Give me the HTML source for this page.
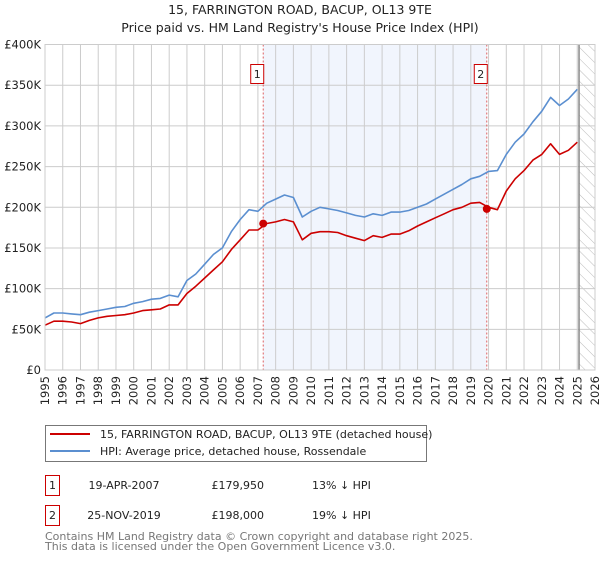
<!DOCTYPE html>
<html><head><meta charset="utf-8"><style>
body{margin:0;background:#fff;width:600px;height:560px;overflow:hidden;font-family:"DejaVu Sans","Liberation Sans",sans-serif;}
svg text{font-family:"DejaVu Sans","Liberation Sans",sans-serif;}
</style></head><body>
<svg id="chart" width="600" height="560" viewBox="0 0 600 560" xmlns="http://www.w3.org/2000/svg">
<text x="300" y="14" text-anchor="middle" font-size="12.5" fill="#222">15, FARRINGTON ROAD, BACUP, OL13 9TE</text>
<text x="300" y="32" text-anchor="middle" font-size="12.5" fill="#222">Price paid vs. HM Land Registry's House Price Index (HPI)</text>
<g id="plot"></g>
<g>
<rect x="45.5" y="425.5" width="381" height="36" fill="#fff" stroke="#777"/>
<line x1="50" y1="434" x2="90" y2="434" stroke="#cc0000" stroke-width="2"/>
<text x="100" y="438" font-size="11" fill="#222">15, FARRINGTON ROAD, BACUP, OL13 9TE (detached house)</text>
<line x1="50" y1="451" x2="90" y2="451" stroke="#5b8fd0" stroke-width="2"/>
<text x="100" y="455" font-size="11" fill="#222">HPI: Average price, detached house, Rossendale</text>
</g>
<g font-size="11" fill="#222">
<rect x="45.5" y="475.5" width="14" height="20" fill="#fff" stroke="#cc0000"/>
<text x="52.5" y="489" text-anchor="middle">1</text>
<text x="124" y="489" text-anchor="middle">19-APR-2007</text>
<text x="264" y="489" text-anchor="end">£179,950</text>
<text x="312" y="489">13% ↓ HPI</text>
<rect x="45.5" y="505.5" width="14" height="20" fill="#fff" stroke="#cc0000"/>
<text x="52.5" y="519" text-anchor="middle">2</text>
<text x="124" y="519" text-anchor="middle">25-NOV-2019</text>
<text x="264" y="519" text-anchor="end">£198,000</text>
<text x="312" y="519">19% ↓ HPI</text>
</g>
<text x="45" y="540" font-size="11" fill="#777">Contains HM Land Registry data © Crown copyright and database right 2025.</text>
<text x="45" y="550" font-size="11" fill="#777">This data is licensed under the Open Government Licence v3.0.</text>
</svg>
<script>
const years=[1995,1995.5,1996,1996.5,1997,1997.5,1998,1998.5,1999,1999.5,2000,2000.5,2001,2001.5,2002,2002.5,2003,2003.5,2004,2004.5,2005,2005.5,2006,2006.5,2007,2007.5,2008,2008.5,2009,2009.5,2010,2010.5,2011,2011.5,2012,2012.5,2013,2013.5,2014,2014.5,2015,2015.5,2016,2016.5,2017,2017.5,2018,2018.5,2019,2019.5,2020,2020.5,2021,2021.5,2022,2022.5,2023,2023.5,2024,2024.5,2025];
const hpi=[64,70,70,69,68,71,73,75,77,78,82,84,87,88,92,90,110,118,130,142,150,170,185,197,195,205,210,215,212,188,195,200,198,196,193,190,188,192,190,194,194,196,200,204,210,216,222,228,235,238,244,245,265,280,290,305,318,335,325,333,345];
const price=[55,60,60,59,57,61,64,66,67,68,70,73,74,75,80,80,94,103,113,123,133,148,160,172,172,180,182,185,182,160,168,170,170,169,165,162,159,165,163,167,167,171,177,182,187,192,197,200,205,206,200,197,220,235,245,258,265,278,265,270,280];
const yTicks=[0,50,100,150,200,250,300,350,400];
const yLabels=["£0","£50K","£100K","£150K","£200K","£250K","£300K","£350K","£400K"];
const xTicks=[1995,1996,1997,1998,1999,2000,2001,2002,2003,2004,2005,2006,2007,2008,2009,2010,2011,2012,2013,2014,2015,2016,2017,2018,2019,2020,2021,2022,2023,2024,2025,2026];
const saleYears=[2007.3,2019.9];
const saleValues=[179.95,198];
const saleLabels=["1","2"];
const dataEnd=2025.1;

const L=45,R=595,T=44.5,B=370;
const xs=v=>L+(v-1995)/(2026-1995)*(R-L);
const ys=v=>B-v/400*(B-T);
const NS="http://www.w3.org/2000/svg";
const plot=document.getElementById('plot');
function mk(tag,attrs,parent){const e=document.createElementNS(NS,tag);for(const k in attrs)e.setAttribute(k,attrs[k]);(parent||plot).appendChild(e);return e;}

let e=mk('rect',{x:xs(saleYears[0]),y:T,width:xs(saleYears[1])-xs(saleYears[0]),height:B-T,fill:'#eef2fc',opacity:0.8});


const defs=mk('defs',{});
const pat=mk('pattern',{id:'hatch',width:8,height:8,patternUnits:'userSpaceOnUse',patternTransform:'rotate(-45)'},defs);
mk('line',{x1:0,y1:0,x2:0,y2:8,stroke:'#bbb','stroke-width':1},pat);
e=mk('rect',{x:xs(dataEnd),y:T,width:R-xs(dataEnd),height:B-T,fill:'url(#hatch)'});



xTicks.forEach(t=>{
 let g=mk('line',{x1:xs(t),x2:xs(t),y1:T,y2:B,stroke:'#ccc','stroke-width':1});
 
 
 let tx=mk('text',{x:0,y:0,'font-size':11.5,fill:'#222','text-anchor':'end',transform:`translate(${xs(t)+4},${B+6}) rotate(-90)`});
 tx.textContent=t;
 
 
});
yTicks.forEach((t,i)=>{
 let g=mk('line',{x1:L,x2:R,y1:ys(t),y2:ys(t),stroke:'#ccc','stroke-width':1});
 
 
 let tx=mk('text',{x:L-4,y:ys(t)+4,'font-size':11.5,fill:'#222','text-anchor':'end'});
 tx.textContent=yLabels[i];
 
 
});
e=mk('line',{x1:xs(dataEnd),x2:xs(dataEnd),y1:T,y2:B,stroke:'#888','stroke-width':1.5});



saleYears.forEach((s,i)=>{
 let l=mk('line',{x1:xs(s),x2:xs(s),y1:T,y2:B,stroke:'#e06060','stroke-width':1,'stroke-dasharray':'2,2'});
 
 
 let r=mk('rect',{x:xs(s)-12.5,y:64.5,width:13,height:19,fill:'#fff',stroke:'#cc0000'});
 
 
 let t=mk('text',{x:xs(s)-6,y:78,'font-size':11,fill:'#222','text-anchor':'middle'});
 t.textContent=saleLabels[i];
 
 
});

function line(vals,color,name){
 const d=vals.map((v,i)=>(i?'L':'M')+xs(years[i]).toFixed(1)+','+ys(v).toFixed(1)).join('');
 const p=mk('path',{d:d,fill:'none',stroke:color,'stroke-width':1.6,'stroke-linejoin':'round'});
 
 
}
line(hpi,'#5b8fd0','hpi-line');
line(price,'#cc0000','property-price-line');
saleYears.forEach((s,i)=>{
 const c=mk('circle',{cx:xs(s),cy:ys(saleValues[i]),r:4,fill:'#cc0000'});
 
 
});
e=mk('rect',{x:L,y:T,width:R-L,height:B-T,fill:'none',stroke:'#ccc'});


</script>
</body></html>
